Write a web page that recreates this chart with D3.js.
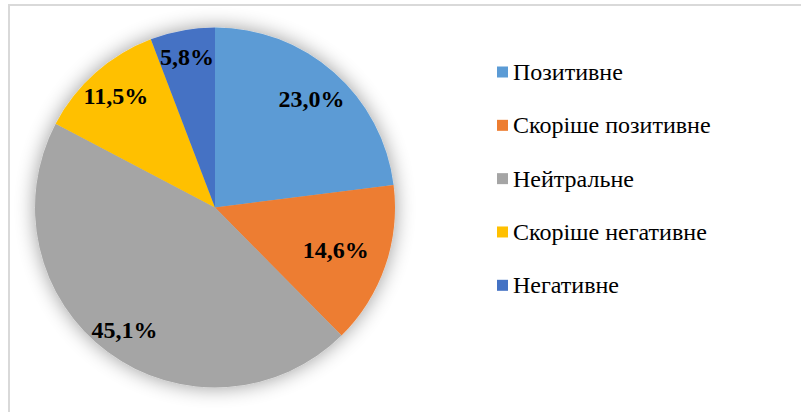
<!DOCTYPE html>
<html><head><meta charset="utf-8">
<script src="https://cdn.jsdelivr.net/npm/d3@7"></script>
<style>body{margin:0;background:#fff}svg{display:block}</style>
</head><body>
<script>
const categories = ["Позитивне","Скоріше позитивне","Нейтральне","Скоріше негативне","Негативне"];
const values = [23.0, 14.6, 45.1, 11.5, 5.8];
const valueLabels = ["23,0%","14,6%","45,1%","11,5%","5,8%"];
const colors = ["#5B9BD5","#ED7D31","#A5A5A5","#FFC000","#4472C4"];

const W = 801, H = 412;
const FONT = "Liberation Serif";
const svg = d3.select("body").append("svg").attr("width", W).attr("height", H);

// frame
svg.append("rect").attr("x", 9).attr("y", 5).attr("width", 800).attr("height", 420)
  .attr("fill", "#fff").attr("stroke", "#d9d9d9").attr("stroke-width", 2);

const defs = svg.append("defs");
const f = defs.append("filter").attr("id","sh").attr("x","-30%").attr("y","-30%").attr("width","160%").attr("height","160%");
f.append("feGaussianBlur").attr("in","SourceAlpha").attr("stdDeviation",10).attr("result","b");
f.append("feComponentTransfer").attr("in","b").attr("result","c")
  .append("feFuncA").attr("type","linear").attr("slope",0.4);
f.append("feFlood").attr("flood-color","#000").attr("result","fl");
f.append("feComposite").attr("in","fl").attr("in2","c").attr("operator","in").attr("result","s");
const m = f.append("feMerge");
m.append("feMergeNode").attr("in","s");
m.append("feMergeNode").attr("in","SourceGraphic");

const cx = 215, cy = 207.5, R = 180;
const g = svg.append("g").attr("transform", `translate(${cx},${cy})`);
const pie = d3.pie().sort(null).value(d => d)(values);
const arc = d3.arc().innerRadius(0).outerRadius(R);

const gp = g.append("g").attr("filter","url(#sh)");
gp.selectAll("path").data(pie).join("path")
  .attr("d", arc).attr("fill", (d,i) => colors[i]);

const labelR = [0.81, 0.71, 0.845, 0.83, 0.855];
g.selectAll("text.lbl").data(pie).join("text").attr("class","lbl")
  .attr("transform", (d,i) => {
    const a = (d.startAngle + d.endAngle)/2;
    const r = R*labelR[i];
    return `translate(${r*Math.sin(a)},${-r*Math.cos(a)})`;
  })
  .attr("text-anchor","middle").attr("dy","0.35em")
  .attr("font-family",FONT).attr("font-weight","bold").attr("font-size",24).attr("fill","#000")
  .text((d,i) => valueLabels[i]);

// legend
const ly = d3.scalePoint().domain(categories).range([72, 285.3]);
const lg = svg.append("g");
const items = lg.selectAll("g").data(categories).join("g")
  .attr("transform", d => `translate(497,${ly(d)})`);
items.append("rect").attr("x",0).attr("y",-5.5).attr("width",11).attr("height",11)
  .attr("fill",(d,i)=>colors[i]);
items.append("text").attr("x",16).attr("y",8)
  .attr("font-family",FONT).attr("font-size",24).attr("fill","#000").text(d=>d);
</script>
</body></html>
